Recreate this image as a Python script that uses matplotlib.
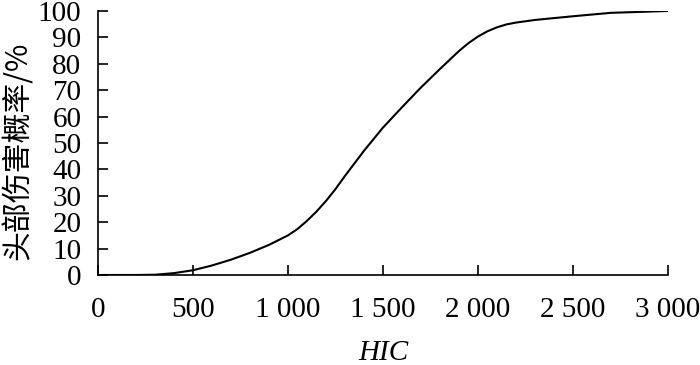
import matplotlib
matplotlib.use("Agg")
import matplotlib.pyplot as plt

hic = [0, 200, 300, 400, 500, 600, 700, 800, 900, 1000, 1050, 1100, 1150, 1200,
       1250, 1300, 1400, 1500, 1600, 1700, 1800, 1900, 1950, 2000, 2050, 2100,
       2150, 2200, 2300, 2500, 2700, 3000]
prob = [0, 0, 0.1, 0.7, 1.8, 3.6, 5.8, 8.4, 11.4, 15.0, 17.4, 20.5, 24.0, 28.0,
        32.5, 37.5, 47.0, 55.8, 63.5, 71.0, 78.0, 84.8, 87.8, 90.3, 92.3, 93.8,
        94.9, 95.6, 96.6, 98.0, 99.3, 100.0]
xticks = [0, 500, 1000, 1500, 2000, 2500, 3000]
xticklabels = ["0", "500", "1 000", "1 500", "2 000", "2 500", "3 000"]
yticks = list(range(0, 101, 10))

fig = plt.figure(figsize=(7, 3.65), dpi=100)
ax = fig.add_axes([0.14, 0.2466, 0.814, 0.7233])
ax.plot(hic, prob, color="black", lw=1.5)
ax.set_xlim(0, 3000)
ax.set_ylim(0, 100)
for s in ["top", "right"]:
    ax.spines[s].set_visible(False)
for s in ["left", "bottom"]:
    ax.spines[s].set_linewidth(1.2)
ax.set_xticks(xticks)
ax.set_xticklabels(xticklabels)
ax.set_yticks(yticks)
ax.tick_params(direction="in", length=7, width=1.2, labelsize=21)
ax.tick_params(axis="x", pad=16)
ax.tick_params(axis="y", pad=12)
for lab in ax.get_xticklabels() + ax.get_yticklabels():
    lab.set_fontfamily("Liberation Serif")
ax.set_xlabel("HIC", fontsize=21, fontstyle="italic", family="Liberation Serif", labelpad=12)
ax.set_ylabel("头部伤害概率/%", fontsize=21.5, family=["Noto Sans CJK SC", "DejaVu Sans"])
ax.yaxis.set_label_coords(-0.112, 0.47)
fig.savefig("out.png", dpi=100)
